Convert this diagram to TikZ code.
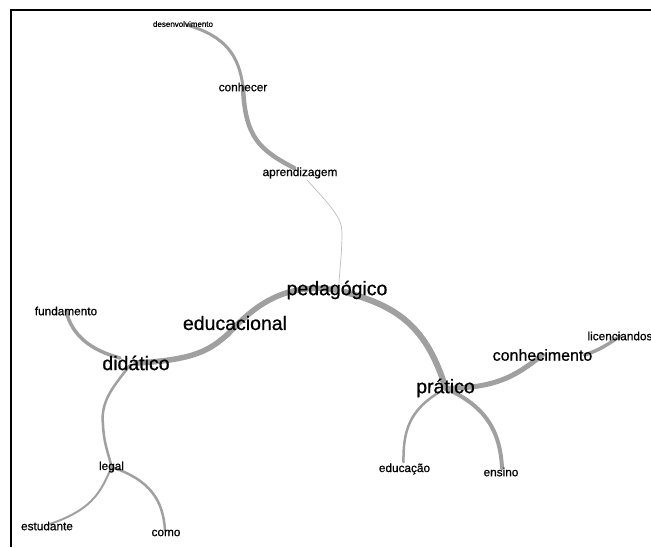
\documentclass[tikz,border=0pt]{standalone}
\usepackage{fontspec}
\setmainfont{Liberation Sans}
\newfontfamily\lblfont[FakeBold=0.7]{Liberation Sans}
\usetikzlibrary{backgrounds,calc}
\definecolor{edgegray}{HTML}{A0A0A0}
\definecolor{thingray}{HTML}{BEBEBE}
\tikzset{
  big/.style={font=\lblfont\fontsize{19.5}{20}\selectfont, inner sep=0pt},
  mid/.style={font=\lblfont\fontsize{16}{17}\selectfont, inner sep=0pt},
  small/.style={font=\lblfont\fontsize{11.8}{12}\selectfont, inner sep=0pt},
  tiny/.style={font=\lblfont\fontsize{8}{9}\selectfont, inner sep=0pt},
  edge/.style={draw=edgegray, line cap=round},
  thinedge/.style={draw=thingray, line width=0.7pt, line cap=round},
  frameline/.style={draw=black, line width=1.6pt},
}
\begin{document}
\begin{tikzpicture}[x=1pt,y=-1pt]
\useasboundingbox (0,0) rectangle (651,547);
% nodes
\node[tiny]  (desenv) at (183,24)  {desenvolvimento};
\node[small] (conhecer) at (243,87) {conhecer};
\node[small] (aprend) at (300,173) {aprendizagem};
\node[big]   (pedag) at (337,290) {pedagógico};
\node[big]   (educ) at (235,323) {educacional};
\node[big]   (didat) at (136,363) {didático};
\node[small] (fund) at (66,311) {fundamento};
\node[small] (legal) at (111.5,467) {legal};
\node[small] (estud) at (47,526) {estudante};
\node[small] (como) at (166,533) {como};
\node[big]   (prat) at (445.5,388) {prático};
\node[mid]   (conhec) at (542.5,355) {conhecimento};
\node[small] (licen) at (620,336) {licenciandos};
\node[small] (educa) at (404.5,469) {educação};
\node[small] (ensino) at (501,472) {ensino};
\coordinate (via) at (228,334);
\begin{scope}[on background layer]
  \fill[white] (0,0) rectangle (651,547);
  \draw[edge, line width=3pt] ($(desenv)+(4,1)$) .. controls (225,36) and (239,55) .. (conhecer.center);
  \draw[edge, line width=4.5pt] (conhecer.center) .. controls (245,138) and (260,150) .. ($(aprend)+(-6,-5)$);
  \draw[thinedge] ($(aprend)+(7,7)$) .. controls (330,205) and (342,218) .. (342,232) .. controls (342,252) and (340,266) .. ($(pedag)+(2,-7)$);
  \draw[edge, line width=5.5pt] (pedag.center) .. controls (285,282) and (255,305) .. (via);
  \draw[edge, line width=5.5pt] (via) .. controls (210,350) and (195,360) .. (didat.center);
  \draw[edge, line width=3.5pt] ($(didat)+(-16,-5)$) .. controls (90,350) and (72,335) .. (fund.center);
  \draw[edge, line width=2.5pt] ($(didat)+(-6,2)$) .. controls (115,385) and (100,400) .. (103,425) .. controls (104,445) and (109,455) .. (legal.center);
  \draw[edge, line width=2pt] (legal.center) .. controls (100,495) and (90,510) .. ($(estud)+(3,-2)$);
  \draw[edge, line width=2.5pt] (legal.center) .. controls (150,480) and (163,500) .. ($(como)+(-1,-3)$);
  \draw[edge, line width=6pt] ($(pedag)+(8,2)$) .. controls (390,305) and (425,320) .. (prat.center);
  \draw[edge, line width=5pt] (prat.center) .. controls (500,389) and (520,372) .. (conhec.center);
  \draw[edge, line width=3.5pt] ($(conhec)+(42,0)$) .. controls (600,350) and (610,343) .. (licen.center);
  \draw[edge, line width=2.5pt] ($(prat)+(-6,4)$) .. controls (410,410) and (403,430) .. ($(educa)+(-1,-7)$);
  \draw[edge, line width=4pt] ($(prat)+(4,2)$) .. controls (480,405) and (500,425) .. ($(ensino)+(1,-4)$);
\end{scope}
\draw[frameline] (651,10) -- (11,10) -- (11,547);
\end{tikzpicture}
\end{document}
